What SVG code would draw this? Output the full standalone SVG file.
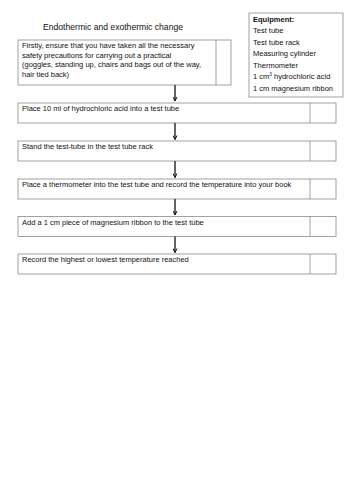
<svg xmlns="http://www.w3.org/2000/svg" width="354" height="500" viewBox="0 0 354 500">
<style>
.box{fill:#fff;stroke:#8a8a8a;stroke-width:0.8}
.t{font-family:"Liberation Sans",Arial,sans-serif;font-size:7.5px;fill:#111}
.e{font-family:"Liberation Sans",Arial,sans-serif;font-size:7.5px;fill:#111}
.title{font-family:"Liberation Sans",Arial,sans-serif;font-size:8.6px;fill:#111}
.arr{stroke:#111;stroke-width:1.3;fill:none}
</style>
<defs>
<marker id="ah" viewBox="0 0 10 10" refX="9" refY="5" markerWidth="5" markerHeight="5" orient="auto" markerUnits="userSpaceOnUse">
<path d="M1,1 L9,5 L1,9" fill="none" stroke="#111" stroke-width="2"/>
</marker>
</defs>
<rect width="354" height="500" fill="#fff"/>
<text class="title" x="113" y="30" text-anchor="middle">Endothermic and exothermic change</text>
<g id="equipment">
<rect class="box" x="249" y="13" width="94" height="84"/>
<text class="e" x="253" y="21.5" font-weight="bold">Equipment:</text>
<text class="e" x="253" y="33">Test tube</text>
<text class="e" x="253" y="44.5">Test tube rack</text>
<text class="e" x="253" y="56">Measuring cylinder</text>
<text class="e" x="253" y="67.5">Thermometer</text>
<text class="e" x="253" y="79">1 cm<tspan font-size="4.8" dy="-2.8">3</tspan><tspan dy="2.8"> hydrochloric acid</tspan></text>
<text class="e" x="253" y="90.5">1 cm magnesium ribbon</text>
</g>
<g id="step1">
<rect class="box" x="18" y="40" width="213" height="45"/>
<line class="box" x1="216" y1="40" x2="216" y2="85"/>
<text class="t" x="22" y="48">Firstly, ensure that you have taken all the necessary</text>
<text class="t" x="22" y="57.5">safety precautions for carrying out a practical</text>
<text class="t" x="22" y="67">(goggles, standing up, chairs and bags out of the way,</text>
<text class="t" x="22" y="76.5">hair tied back)</text>
</g>
<g id="step2">
<rect class="box" x="18" y="103" width="318" height="20"/>
<line class="box" x1="310" y1="103" x2="310" y2="123"/>
<text class="t" x="22" y="111">Place 10 ml of hydrochloric acid into a test tube</text>
</g>
<g id="step3">
<rect class="box" x="18" y="141" width="318" height="20"/>
<line class="box" x1="310" y1="141" x2="310" y2="161"/>
<text class="t" x="22" y="149">Stand the test-tube in the test tube rack</text>
</g>
<g id="step4">
<rect class="box" x="18" y="179" width="318" height="20"/>
<line class="box" x1="310" y1="179" x2="310" y2="199"/>
<text class="t" x="22" y="187">Place a thermometer into the test tube and record the temperature into your book</text>
</g>
<g id="step5">
<rect class="box" x="18" y="216.5" width="318" height="20"/>
<line class="box" x1="310" y1="216.5" x2="310" y2="236.5"/>
<text class="t" x="22" y="224.5">Add a 1 cm piece of magnesium ribbon to the test tube</text>
</g>
<g id="step6">
<rect class="box" x="18" y="254" width="318" height="20"/>
<line class="box" x1="310" y1="254" x2="310" y2="274"/>
<text class="t" x="22" y="262">Record the highest or lowest temperature reached</text>
</g>
<g id="connectors">
<line class="arr" x1="175" y1="85" x2="175" y2="101" marker-end="url(#ah)"/>
<line class="arr" x1="175" y1="123" x2="175" y2="139.5" marker-end="url(#ah)"/>
<line class="arr" x1="175" y1="161" x2="175" y2="177.5" marker-end="url(#ah)"/>
<line class="arr" x1="175" y1="199" x2="175" y2="215" marker-end="url(#ah)"/>
<line class="arr" x1="175" y1="236.5" x2="175" y2="252.5" marker-end="url(#ah)"/>
</g>
</svg>
